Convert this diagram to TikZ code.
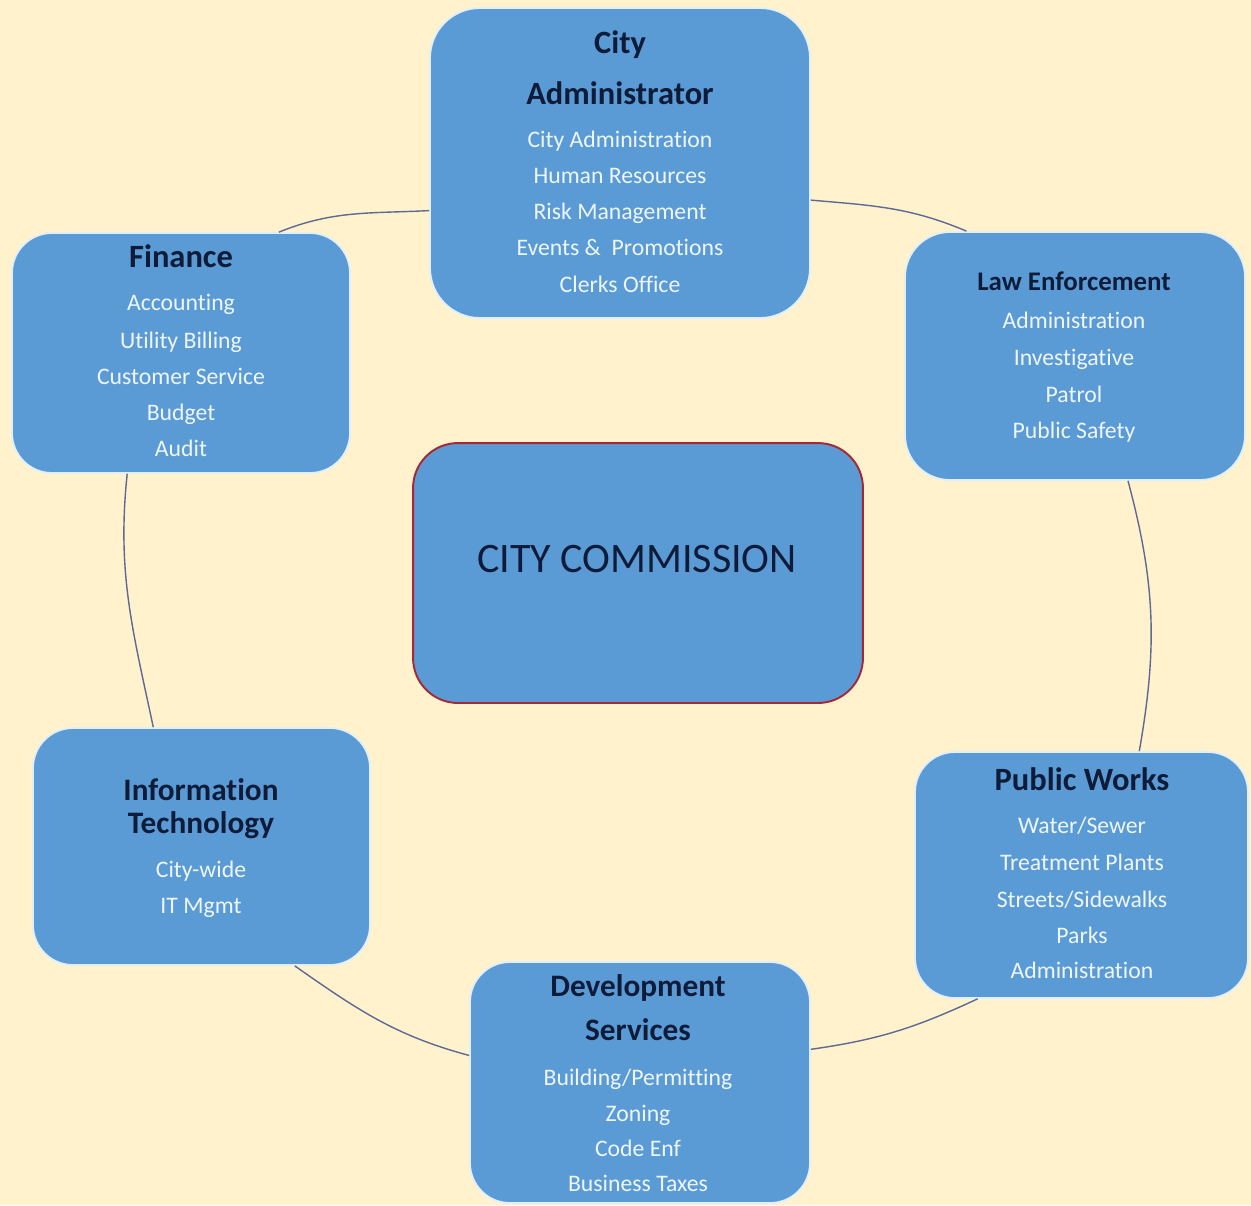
\documentclass[tikz,border=0pt]{standalone}
\usepackage{fontspec}
\setmainfont{Carlito}[Ligatures=NoCommon]
\definecolor{bg}{RGB}{255,242,204}
\definecolor{boxblue}{RGB}{91,155,213}
\definecolor{edgec}{RGB}{224,239,249}
\definecolor{navy}{RGB}{14,28,58}
\definecolor{itemc}{RGB}{238,246,252}
\definecolor{linec}{RGB}{95,105,150}
\definecolor{redb}{RGB}{165,40,55}
\begin{document}
\begin{tikzpicture}[x=0.02cm,y=0.02cm,
  dept/.style={draw=edgec, line width=1pt, fill=boxblue, rounded corners=0.8cm, inner sep=0pt},
  ttl/.style={anchor=base, text=navy, inner sep=0pt, font=\fontsize{18.5}{20}\selectfont\bfseries},
  ttlsm/.style={anchor=base, text=navy, inner sep=0pt, font=\fontsize{17.8}{20}\selectfont\bfseries},
  item/.style={anchor=base, text=itemc, inner sep=0pt, font=\fontsize{13.5}{16}\selectfont},
  link/.style={draw=linec, line width=0.8pt}
]
\fill[bg] (0,0) rectangle (1251,-1205);
\useasboundingbox (0,0) rectangle (1251,-1205);

% boxes
\node[dept, rounded corners=1cm, minimum width=7.6cm, minimum height=6.2cm] (adm) at (620,-163) {};
\node[dept, minimum width=6.76cm, minimum height=4.8cm] (fin) at (181,-353) {};
\node[dept, rounded corners=0.9cm, minimum width=6.8cm, minimum height=4.96cm] (law) at (1075,-356) {};
\node[dept, draw=redb, line width=1.1pt, rounded corners=0.9cm, minimum width=9cm, minimum height=5.2cm] (com) at (638,-573) {};
\node[dept, minimum width=6.66cm, minimum height=4.92cm] (pw) at (1081.5,-875) {};
\node[dept, minimum width=6.8cm, minimum height=4.82cm] (dev) at (640,-1082.5) {};
\node[dept, minimum width=6.74cm, minimum height=4.74cm] (it) at (201.5,-846.5) {};

% connectors
\draw[link] (adm.194) to[out=183, in=22] (fin.51);
\draw[link] (fin.246) to[out=264, in=102] (it.112);
\draw[link] (it.308) to[out=-35, in=165] (dev.171);
\draw[link] (dev.11) to[out=8, in=205] (pw.230);
\draw[link] (pw.65) to[out=80, in=285] (law.293);
\draw[link] (law.131) to[out=157, in=-5] (adm.349);

% City Administrator
\node[ttl] (adm-t1) at (620,-53) {City};
\node[ttl] (adm-t2) at (620,-104) {Administrator};
\node[item] (adm-i1) at (620,-147) {City Administration};
\node[item] (adm-i2) at (620,-183) {Human Resources};
\node[item] (adm-i3) at (620,-219) {Risk Management};
\node[item] (adm-i4) at (620,-255) {Events \&\ \ Promotions};
\node[item] (adm-i5) at (620,-292) {Clerks Office};

% Finance
\node[ttl] (fin-t) at (181,-267) {Finance};
\node[item] (fin-i1) at (181,-310) {Accounting};
\node[item] (fin-i2) at (181,-348) {Utility Billing};
\node[item] (fin-i3) at (181,-384) {Customer Service};
\node[item] (fin-i4) at (181,-420) {Budget};
\node[item] (fin-i5) at (181,-456) {Audit};

% Law Enforcement
\node[anchor=base, text=navy, inner sep=0pt, font=\fontsize{15.3}{18}\selectfont\bfseries] (law-t) at (1074,-290) {Law Enforcement};
\node[item] (law-i1) at (1074,-328) {Administration};
\node[item] (law-i2) at (1074,-365) {Investigative};
\node[item] (law-i3) at (1074,-402) {Patrol};
\node[item] (law-i4) at (1074,-438) {Public Safety};

% City Commission
\node[anchor=base, text=navy, inner sep=0pt, font=\fontsize{23.9}{28}\selectfont] (com-t) at (637,-572) {CITY COMMISSION};

% Public Works
\node[ttl] (pw-t) at (1082,-790) {Public Works};
\node[item] (pw-i1) at (1082,-833) {Water/Sewer};
\node[item] (pw-i2) at (1082,-870) {Treatment Plants};
\node[item] (pw-i3) at (1082,-907) {Streets/Sidewalks};
\node[item] (pw-i4) at (1082,-943) {Parks};
\node[item] (pw-i5) at (1082,-978) {Administration};

% Development Services
\node[ttlsm] (dev-t1) at (638,-996) {Development};
\node[ttlsm] (dev-t2) at (638,-1040) {Services};
\node[item] (dev-i1) at (638,-1085) {Building/Permitting};
\node[item] (dev-i2) at (638,-1121) {Zoning};
\node[item] (dev-i3) at (638,-1156) {Code Enf};
\node[item] (dev-i4) at (638,-1191) {Business Taxes};

% Information Technology
\node[ttlsm] (it-t1) at (201,-800) {Information};
\node[ttlsm] (it-t2) at (201,-833) {Technology};
\node[item] (it-i1) at (201,-877) {City-wide};
\node[item] (it-i2) at (201,-913) {IT Mgmt};
\end{tikzpicture}
\end{document}
